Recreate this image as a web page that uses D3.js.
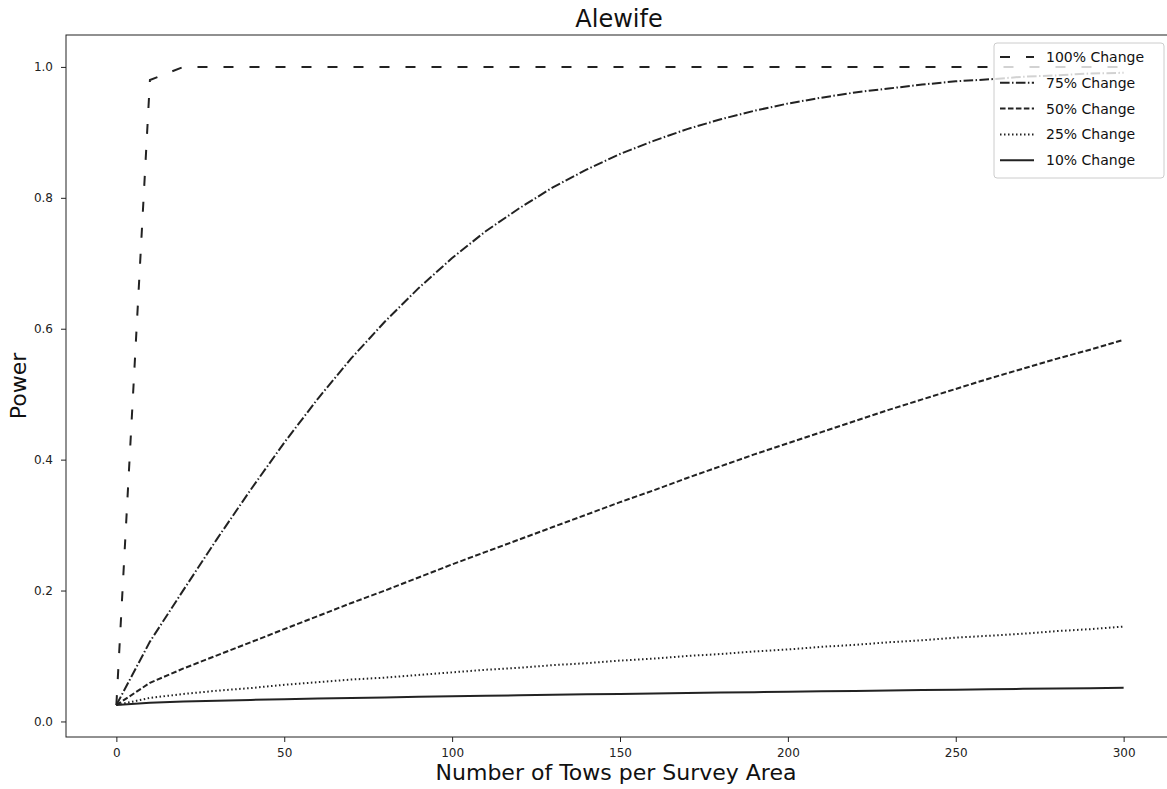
<!DOCTYPE html>
<html>
<head>
<meta charset="utf-8">
<script src="https://cdn.jsdelivr.net/npm/d3@7"></script>
<style>
  body { margin: 0; background: #fff; }
  svg { display: block; font-family: "DejaVu Sans", sans-serif; }
</style>
</head>
<body>
<svg id="chart" width="1167" height="789"></svg>
<script>
const tows = [0,10,20,30,40,50,60,70,80,90,100,110,120,130,140,150,160,170,180,190,200,210,220,230,240,250,260,270,280,290,300];

const change100 = [0.025,0.98,1,1,1,1,1,1,1,1,1,1,1,1,1,1,1,1,1,1,1,1,1,1,1,1,1,1,1,1,1];
const change75 = [0.025,0.122,0.201,0.279,0.354,0.426,0.493,0.555,0.611,0.662,0.708,0.749,0.784,0.816,0.843,0.867,0.887,0.905,0.92,0.933,0.944,0.953,0.961,0.967,0.973,0.978,0.981,0.985,0.987,0.99,0.991];
const change50 = [0.025,0.059,0.081,0.101,0.121,0.141,0.161,0.181,0.2,0.22,0.24,0.259,0.278,0.297,0.316,0.335,0.353,0.372,0.39,0.408,0.425,0.442,0.459,0.476,0.492,0.508,0.524,0.539,0.554,0.568,0.583];
const change25 = [0.025,0.036,0.042,0.047,0.051,0.056,0.06,0.064,0.067,0.071,0.075,0.079,0.082,0.086,0.089,0.093,0.096,0.1,0.103,0.107,0.11,0.114,0.117,0.121,0.124,0.128,0.131,0.134,0.138,0.141,0.145];
const change10 = [0.025,0.0287,0.0304,0.0317,0.0329,0.034,0.0349,0.0358,0.0367,0.0376,0.0384,0.0392,0.0399,0.0407,0.0414,0.0421,0.0428,0.0434,0.0441,0.0447,0.0454,0.0461,0.0467,0.0473,0.0479,0.0486,0.0492,0.0498,0.0503,0.0509,0.0515];

const seriesNames = ["100% Change","75% Change","50% Change","25% Change","10% Change"];
const seriesValues = [change100, change75, change50, change25, change10];
const seriesDash = ["10,16", "9.6,2.4,1.5,2.4", "5.55,2.4", "1.5,2.5", null];

const xTicks = [0,50,100,150,200,250,300];
const yTicks = [0.0,0.2,0.4,0.6,0.8,1.0];

(function () {
const svg = d3.select("#chart");
const pl = 66, pr = 1174, pt = 35, pb = 737;

const x = d3.scaleLinear().domain([-15, 315]).range([pl, pr]);
const y = d3.scaleLinear().domain([-0.02375, 1.04875]).range([pb, pt]);

const ink = "#222";

// axes
const xAxis = svg.append("g").attr("transform", `translate(0,${pb})`)
  .call(d3.axisBottom(x).tickValues(xTicks).tickFormat(d3.format("d")).tickSize(5).tickPadding(5));
const yAxis = svg.append("g").attr("transform", `translate(${pl},0)`)
  .call(d3.axisLeft(y).tickValues(yTicks).tickFormat(d3.format(".1f")).tickSize(5).tickPadding(8));
[xAxis, yAxis].forEach(g => {
  g.select(".domain").remove();
  g.selectAll("line").attr("stroke", ink).attr("stroke-width", 1);
  g.selectAll("text").attr("fill", ink).style("font-size", "12px").style("font-family", "DejaVu Sans");
});
xAxis.selectAll("text").attr("dy", "0.8em");

// frame
svg.append("rect").attr("x", pl).attr("y", pt).attr("width", pr - pl).attr("height", pb - pt)
  .attr("fill", "none").attr("stroke", ink).attr("stroke-width", 1);

// lines
const line = d3.line().x((d, i) => x(tows[i])).y(d => y(d));
seriesValues.forEach((vals, k) => {
  svg.append("path").datum(vals)
    .attr("d", line)
    .attr("fill", "none")
    .attr("stroke", ink)
    .attr("stroke-width", 2)
    .attr("stroke-dasharray", seriesDash[k]);
});

// title and labels
svg.append("text").attr("x", 619).attr("y", 27).attr("text-anchor", "middle")
  .style("font-size", "24px").attr("fill", "#111").text("Alewife");
svg.append("text").attr("x", 616).attr("y", 780).attr("text-anchor", "middle")
  .style("font-size", "22px").attr("fill", "#111").text("Number of Tows per Survey Area");
svg.append("text").attr("transform", "translate(26,386) rotate(-90)").attr("text-anchor", "middle")
  .style("font-size", "22px").attr("fill", "#111").text("Power");

// legend
const lg = svg.append("g");
lg.append("rect").attr("x", 994).attr("y", 43).attr("width", 170).attr("height", 135)
  .attr("rx", 3).attr("fill", "#fff").attr("fill-opacity", 0.8)
  .attr("stroke", "#ccc").attr("stroke-width", 1);
seriesNames.forEach((name, k) => {
  const yy = 57 + k * 25.8;
  lg.append("line").attr("x1", 1000).attr("x2", 1034).attr("y1", yy).attr("y2", yy)
    .attr("stroke", ink).attr("stroke-width", 2).attr("stroke-dasharray", seriesDash[k]);
  lg.append("text").attr("x", 1046).attr("y", yy).attr("dy", "0.35em")
    .style("font-size", "14px").attr("fill", "#111").text(name);
});
})();
</script>
</body>
</html>
